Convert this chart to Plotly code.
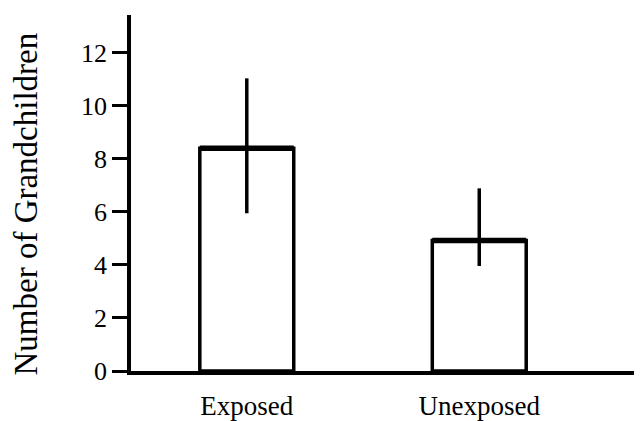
import plotly.graph_objects as go

categories = ["Exposed", "Unexposed"]
means = [8.4, 4.92]
upper = [11.04, 6.89]
lower = [5.95, 3.96]
y_ticks = [0, 2, 4, 6, 8, 10, 12]
y_title = "Number of Grandchildren"

x_pos = list(range(len(categories)))
err_plus = [u - m for u, m in zip(upper, means)]
err_minus = [m - l for m, l in zip(means, lower)]
bar_w = 0.404

fig = go.Figure()
fig.add_trace(go.Bar(
    x=x_pos, y=means, width=bar_w,
    marker=dict(color="white", line=dict(color="black", width=3.5)),
    showlegend=False,
))
# thicker top edge of each bar
for xp, m in zip(x_pos, means):
    fig.add_trace(go.Scatter(
        x=[xp - bar_w / 2, xp + bar_w / 2], y=[m, m], mode="lines",
        line=dict(color="black", width=5.5), showlegend=False, hoverinfo="skip",
    ))
# error bars (no caps)
fig.add_trace(go.Scatter(
    x=x_pos, y=means, mode="markers", marker=dict(size=0.1, color="rgba(0,0,0,0)"),
    error_y=dict(type="data", symmetric=False, array=err_plus, arrayminus=err_minus,
                 color="black", thickness=3.5, width=0),
    showlegend=False, hoverinfo="skip",
))

fig.add_annotation(
    text=y_title, xref="paper", yref="paper", x=0, y=0.4677,
    xanchor="center", yanchor="middle", xshift=-105, textangle=-90,
    showarrow=False, font=dict(size=33),
)

fig.update_layout(
    width=634, height=413,
    margin=dict(l=123, r=0, t=7, b=50, autoexpand=False),
    plot_bgcolor="white", paper_bgcolor="white",
    font=dict(family="Liberation Serif, Times New Roman, serif", color="black", size=24),
    xaxis=dict(
        range=[-0.498, 1.70], tickvals=x_pos, ticktext=categories,
        showline=True, linecolor="black", linewidth=3.5,
        ticks="outside", ticklen=8, tickcolor="rgba(0,0,0,0)",
        showgrid=False, zeroline=False, tickfont=dict(size=27),
    ),
    yaxis=dict(
        range=[0, 13.43], tickvals=y_ticks,
        showline=True, linecolor="black", linewidth=3.5,
        ticks="outside", ticklen=15, tickwidth=3, tickcolor="black",
        showgrid=False, zeroline=False, tickfont=dict(size=26),
    ),
)

fig.write_html("out.html")
